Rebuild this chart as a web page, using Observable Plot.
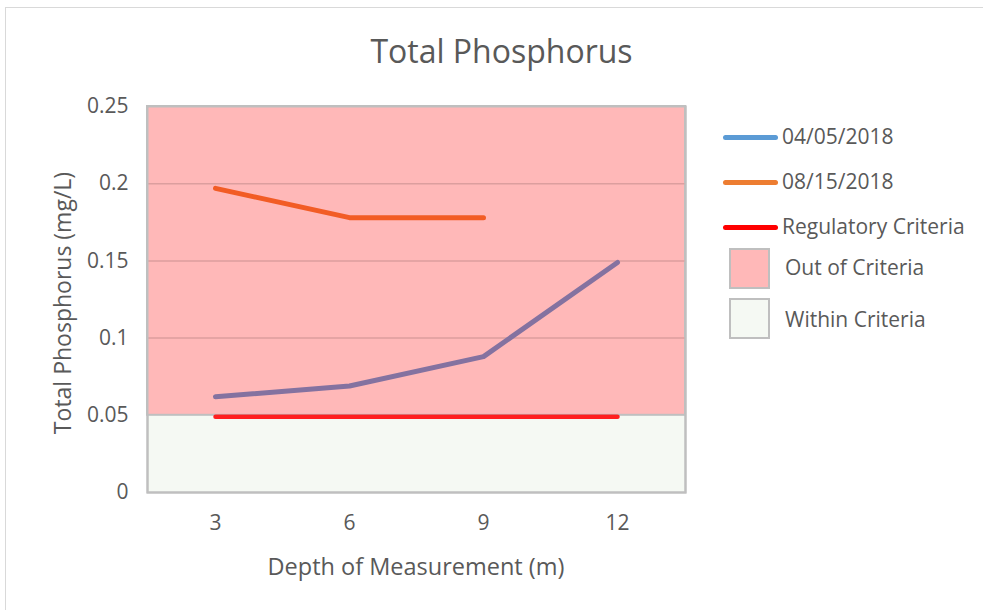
<!DOCTYPE html>
<html>
<head>
<meta charset="utf-8">
<script src="https://cdn.jsdelivr.net/npm/d3@7"></script>
<script src="https://cdn.jsdelivr.net/npm/@observablehq/plot@0.6"></script>
<style>
  html, body { margin: 0; padding: 0; background: #fff; }
  #wrap { position: relative; width: 983px; height: 610px; overflow: hidden; font-family: "Open Sans", sans-serif; color: #595959; }
  #frame { position: absolute; left: 5px; top: 7px; width: 1000px; height: 700px; border: 1.5px solid #d9d9d9; box-sizing: border-box; }
  #title { position: absolute; left: 10px; width: 983px; top: 31px; text-align: center; font-size: 32px; font-weight: 400; color: #595959; line-height: 40px; }
  #xlabel { position: absolute; left: 147px; width: 538px; top: 551px; text-align: center; font-size: 23.5px; line-height: 30px; white-space: nowrap; }
  #ylabel { position: absolute; left: 62px; top: 303px; transform: translate(-50%, -50%) rotate(-90deg); white-space: nowrap; font-size: 23px; line-height: 30px; }
  #chart { position: absolute; left: 0; top: 0; }
  .leg { position: absolute; font-size: 21px; color: #595959; line-height: 24px; white-space: nowrap; }
  .sw-line { position: absolute; height: 5px; border-radius: 3px; }
  .sw-rect { position: absolute; width: 37px; height: 37px; border: 2px solid #bfbfbf; }
</style>
</head>
<body>
<div id="wrap">
  <div id="frame"></div>
  <div id="chart"></div>
  <div id="title"></div>
  <div id="xlabel"></div>
  <div id="ylabel"></div>
  <div id="legend"></div>
</div>
<script>
// Data
const depths = [3, 6, 9, 12];
const series0405 = [0.062, 0.069, 0.088, 0.149];
const series0815 = [0.197, 0.178, 0.178, null];
const regulatory = [0.049, 0.049, 0.049, 0.049];
const yTicks = [0, 0.05, 0.1, 0.15, 0.2, 0.25];
const gridTicks = [0.1, 0.15, 0.2];
const criteriaLimit = 0.05;
const yMax = 0.25;
const titleText = "Total Phosphorus";
const xLabel = "Depth of Measurement (m)";
const yLabel = "Total Phosphorus (mg/L)";
const legendLabels = ["04/05/2018", "08/15/2018", "Regulatory Criteria", "Out of Criteria", "Within Criteria"];

document.getElementById("title").textContent = titleText;
document.getElementById("xlabel").textContent = xLabel;
document.getElementById("ylabel").textContent = yLabel;

const rows = (vals) => depths.map((d, i) => ({depth: d, value: vals[i]})).filter(r => r.value != null);

const W = 983, H = 610;
const chart = Plot.plot({
  width: W,
  height: H,
  marginLeft: 147,
  marginRight: 298,
  marginTop: 106,
  marginBottom: 118,
  style: {fontFamily: "'Open Sans', sans-serif", fontSize: "21px", color: "#595959", background: "transparent"},
  x: {type: "point", domain: depths, padding: 0.5},
  y: {domain: [0, yMax]},
  marks: [
    Plot.frame({fill: "#f5f9f3", stroke: "#bfbfbf", strokeWidth: 2}),
    Plot.rectY([{y1: criteriaLimit, y2: yMax}], {y1: "y1", y2: "y2", fill: "#ffb8b8", stroke: "#bfbfbf", strokeWidth: 2}),
    Plot.ruleY(gridTicks, {stroke: "#dc9e9e", strokeWidth: 1.5}),
    Plot.frame({stroke: "#bfbfbf", strokeWidth: 2}),
    Plot.axisX({tickSize: 0, tickPadding: 23, label: null, fontSize: 21, color: "#595959"}),
    Plot.axisY({ticks: yTicks, tickFormat: d => String(d), tickSize: 0, tickPadding: 19, label: null, fontSize: 21, color: "#595959"}),
    Plot.line(rows(regulatory), {x: "depth", y: "value", stroke: "#ff1f1f", strokeWidth: 4.5, strokeLinecap: "round"}),
    Plot.line(rows(series0405), {x: "depth", y: "value", stroke: "#8472a0", strokeWidth: 5, strokeLinecap: "round", strokeLinejoin: "round"}),
    Plot.line(rows(series0815), {x: "depth", y: "value", stroke: "#f25c25", strokeWidth: 5, strokeLinecap: "round", strokeLinejoin: "round"})
  ]
});
document.getElementById("chart").appendChild(chart);

// Legend
const leg = document.getElementById("legend");
const lineColors = ["#5b9bd5", "#ed7d31", "#ff0000"];
const lineY = [137, 182, 227];
lineColors.forEach((c, i) => {
  const s = document.createElement("div");
  s.className = "sw-line";
  s.style.cssText = `left:723px;top:${lineY[i] - 2.5}px;width:55px;background:${c};`;
  leg.appendChild(s);
  const t = document.createElement("div");
  t.className = "leg";
  t.style.cssText = `left:782px;top:${lineY[i] - 13}px;`;
  t.textContent = legendLabels[i];
  leg.appendChild(t);
});
const rectFill = ["#ffb8b8", "#f5f9f3"];
const rectY = [248, 298];
rectFill.forEach((c, i) => {
  const s = document.createElement("div");
  s.className = "sw-rect";
  s.style.cssText = `left:729px;top:${rectY[i]}px;background:${c};`;
  leg.appendChild(s);
  const t = document.createElement("div");
  t.className = "leg";
  t.style.cssText = `left:785px;top:${rectY[i] + 7 + i * 2}px;`;
  t.textContent = legendLabels[3 + i];
  leg.appendChild(t);
});
</script>
</body>
</html>
